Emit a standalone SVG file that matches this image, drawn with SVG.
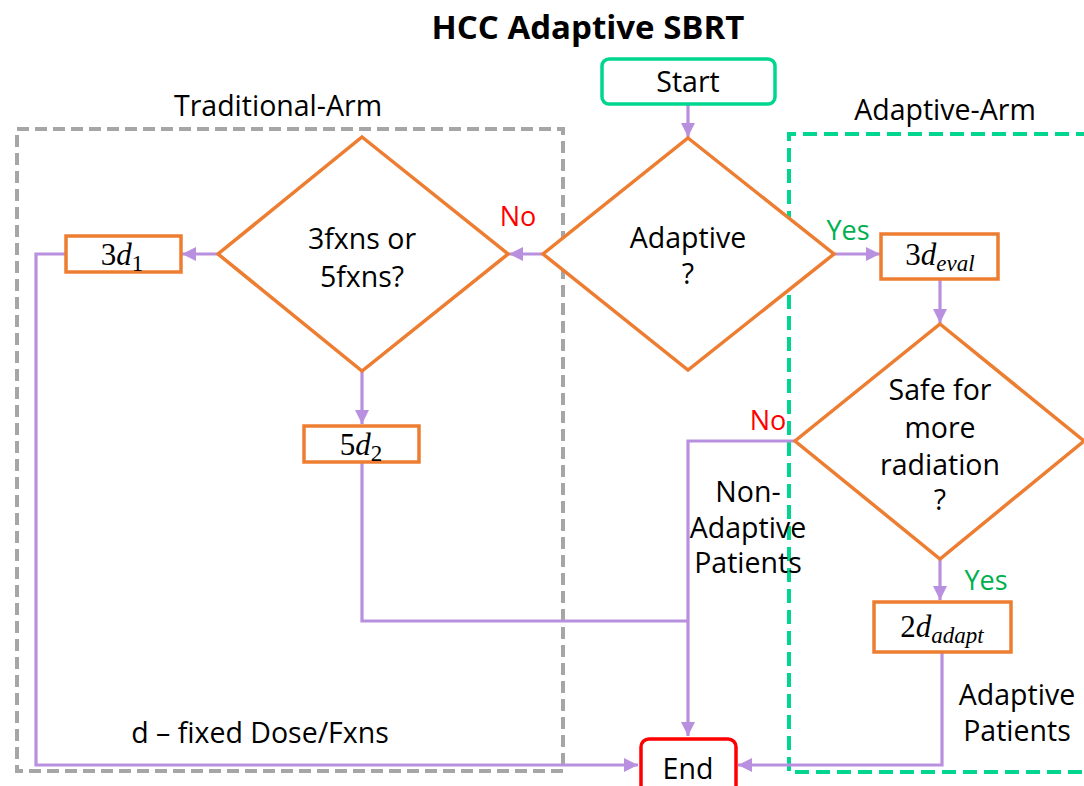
<svg xmlns="http://www.w3.org/2000/svg" width="1084" height="786" viewBox="0 0 1084 786">
  <style>
    .t { font-family: "Open Sans", "Noto Sans", sans-serif; fill: #000; text-anchor: middle; font-size: 28.5px; }
    .m { font-family: "Liberation Serif", "DejaVu Serif", serif; fill: #000; text-anchor: middle; font-size: 31px; }
    .mi { font-style: italic; }
    .sub { font-size: 23px; }
    .box { fill: #fff; stroke: #ED7D31; stroke-width: 3.5; }
    .dia { fill: #fff; stroke: #ED7D31; stroke-width: 3.5; }
    .conn { fill: none; stroke: #B98FDF; stroke-width: 3.2; }
    .no { fill: #FF0000; font-size: 27px; }
    .yes { fill: #00B050; font-size: 27px; }
  </style>
  <defs>
    <marker id="arr" viewBox="0 0 10 10" refX="10" refY="5" markerWidth="4.5" markerHeight="4.5" orient="auto" markerUnits="strokeWidth">
      <path d="M0,0 L10,5 L0,10 Z" fill="#B98FDF"/>
    </marker>
  </defs>

  <rect width="1084" height="786" fill="#fff"/>

  <!-- title -->
  <text class="t" x="588" y="39" font-weight="bold" style="font-size:33px">HCC Adaptive SBRT</text>

  <!-- arm frames -->
  <g id="traditional-arm">
    <rect x="17" y="129" width="546" height="642" fill="none" stroke="#A6A6A6" stroke-width="4" stroke-dasharray="12 6"/>
    <text class="t" x="278" y="116">Traditional-Arm</text>
  </g>
  <g id="adaptive-arm">
    <path d="M1090,134 H789 V772 H1090" fill="none" stroke="#00D68F" stroke-width="4" stroke-dasharray="14 7"/>
    <text class="t" x="945" y="120">Adaptive-Arm</text>
  </g>

  <!-- connectors -->
  <g id="connectors">
    <path class="conn" d="M688,104 V137" marker-end="url(#arr)"/>
    <path class="conn" d="M543,254 H509" marker-end="url(#arr)"/>
    <path class="conn" d="M218,254 H182" marker-end="url(#arr)"/>
    <path class="conn" d="M362,371 V424" marker-end="url(#arr)"/>
    <path class="conn" d="M66,254 H36 V765 H638" marker-end="url(#arr)"/>
    <path class="conn" d="M362,462 V621 H688"/>
    <path class="conn" d="M795,441 H688 V736" marker-end="url(#arr)"/>
    <path class="conn" d="M834,254 H880" marker-end="url(#arr)"/>
    <path class="conn" d="M940,279 V323" marker-end="url(#arr)"/>
    <path class="conn" d="M940,559 V600" marker-end="url(#arr)"/>
    <path class="conn" d="M942,652 V765 H738" marker-end="url(#arr)"/>
  </g>

  <!-- connector labels -->
  <g id="labels">
    <text class="t no" x="518" y="226">No</text>
    <text class="t yes" x="848" y="240">Yes</text>
    <text class="t no" x="768" y="430">No</text>
    <text class="t yes" x="986" y="590">Yes</text>
    <text class="t" x="748" y="502">Non-</text>
    <text class="t" x="748" y="538">Adaptive</text>
    <text class="t" x="748" y="573">Patients</text>
    <text class="t" x="1017" y="705">Adaptive</text>
    <text class="t" x="1017" y="741">Patients</text>
    <text class="t" x="260" y="743">d – fixed Dose/Fxns</text>
  </g>

  <!-- nodes -->
  <g id="start">
    <rect x="602" y="59" width="173" height="45" rx="7" fill="#fff" stroke="#00D68F" stroke-width="3.5"/>
    <text class="t" x="688" y="92">Start</text>
  </g>
  <g id="adaptive-decision">
    <polygon class="dia" points="688,138 834,254 688,370 543,254"/>
    <text class="t" x="688" y="248">Adaptive</text>
    <text class="t" x="688" y="284">?</text>
  </g>
  <g id="fraction-decision">
    <polygon class="dia" points="362,137 508,254 362,371 218,254"/>
    <text class="t" x="362" y="249">3fxns or</text>
    <text class="t" x="362" y="287">5fxns?</text>
  </g>
  <g id="three-d1">
    <rect class="box" x="66" y="236" width="115" height="36"/>
    <text class="m" x="122" y="265">3<tspan class="mi">d</tspan><tspan class="sub" dy="6">1</tspan></text>
  </g>
  <g id="five-d2">
    <rect class="box" x="304" y="426" width="115" height="36"/>
    <text class="m" x="361" y="455">5<tspan class="mi">d</tspan><tspan class="sub" dy="6">2</tspan></text>
  </g>
  <g id="three-deval">
    <rect class="box" x="881" y="234" width="117" height="45"/>
    <text class="m" x="940" y="265">3<tspan class="mi">d</tspan><tspan class="mi sub" dy="6">eval</tspan></text>
  </g>
  <g id="safety-decision">
    <polygon class="dia" points="940,324 1084,441 940,559 795,441"/>
    <text class="t" x="940" y="400">Safe for</text>
    <text class="t" x="940" y="438">more</text>
    <text class="t" x="940" y="475">radiation</text>
    <text class="t" x="940" y="510">?</text>
  </g>
  <g id="two-dadapt">
    <rect class="box" x="874" y="602" width="137" height="50"/>
    <text class="m" x="942" y="637">2<tspan class="mi">d</tspan><tspan class="mi sub" dy="6">adapt</tspan></text>
  </g>
  <g id="end">
    <rect x="641" y="739" width="95" height="60" rx="8" fill="#fff" stroke="#FF0000" stroke-width="3.5"/>
    <text class="t" x="688" y="779">End</text>
  </g>
</svg>
